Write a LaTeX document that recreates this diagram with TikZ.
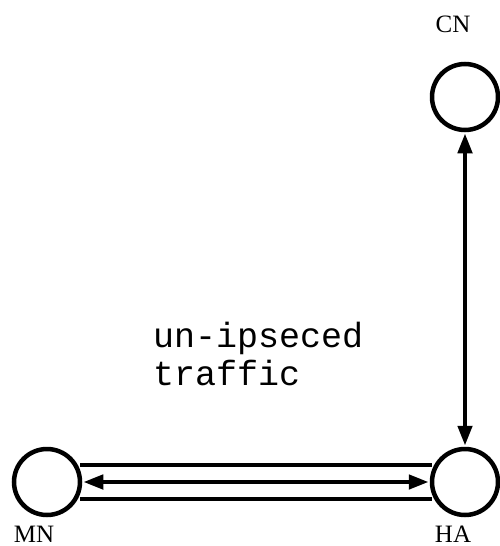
\documentclass[tikz,border=0pt]{standalone}
\usepackage{fontspec}
\setmainfont{Liberation Serif}
\newfontfamily\monofont{Liberation Mono}
\usetikzlibrary{arrows.meta,calc}
\begin{document}
\begin{tikzpicture}[x=1pt,y=-1pt,
  hostnode/.style={circle,draw,line width=4.5pt,minimum size=66pt,inner sep=0pt},
  lbl/.style={font=\fontsize{25}{25}\selectfont,inner sep=0pt,anchor=base},
  thick line/.style={line width=4.5pt},
  dblarrow/.style={line width=4.5pt,{Triangle[length=20pt,width=14pt]}-{Triangle[length=20pt,width=14pt]},shorten <=1pt,shorten >=1pt}]
\useasboundingbox (0,0) rectangle (500,546);
\node[hostnode] (MN) at (47,482) {};
\node[hostnode] (HA) at (465,482) {};
\node[hostnode] (CN) at (465,97) {};
\node[lbl] (MNl) at (34,542) {MN};
\node[lbl] (HAl) at (453,542) {HA};
\node[lbl] (CNl) at (453,32) {CN};
\draw[thick line] ($(MN.east)+(-2,-17)$) -- ($(HA.west)+(2,-17)$);
\draw[thick line] ($(MN.east)+(-2,17)$) -- ($(HA.west)+(2,17)$);
\draw[dblarrow] (MN) -- (HA);
\draw[dblarrow] (CN) -- (HA);
\node[font=\monofont\fontsize{35}{38}\selectfont,align=left,anchor=base west,inner sep=0pt] (txt) at (153,385) {un-ipseced\\traffic};
\end{tikzpicture}
\end{document}
